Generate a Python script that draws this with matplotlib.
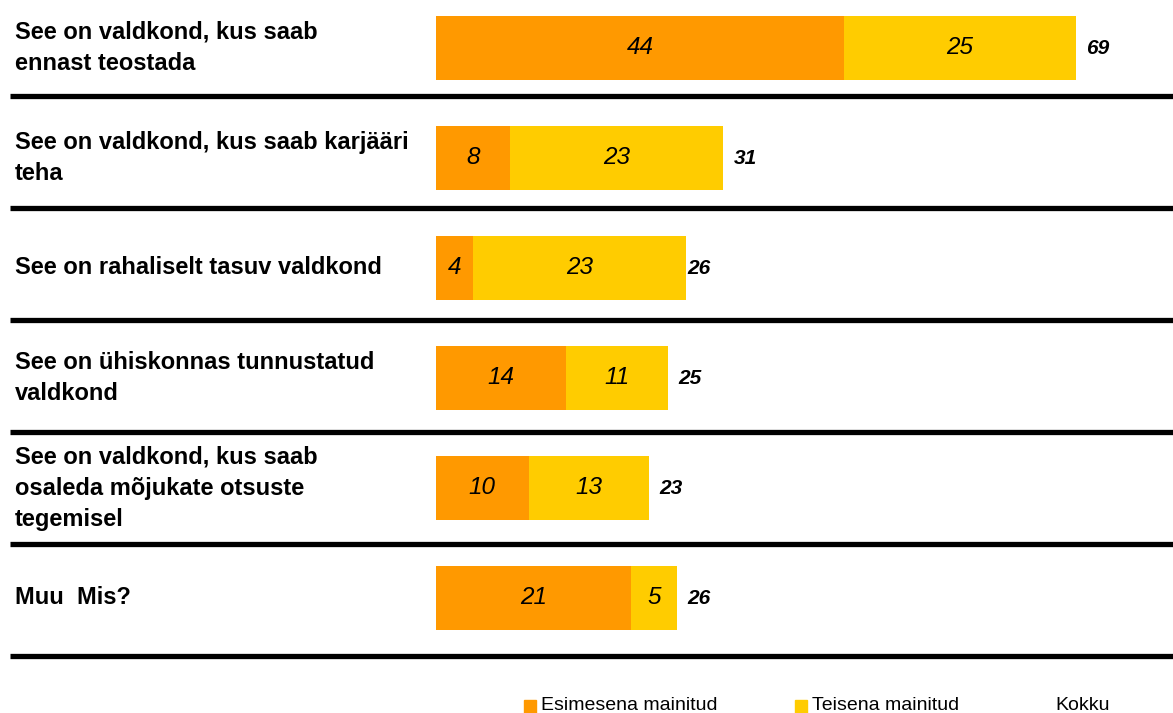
import matplotlib.pyplot as plt
from matplotlib.patches import Rectangle

plt.rcParams['font.family'] = ['Liberation Sans', 'DejaVu Sans']

kategooriad = [
    "See on valdkond, kus saab\nennast teostada",
    "See on valdkond, kus saab karjääri\nteha",
    "See on rahaliselt tasuv valdkond",
    "See on ühiskonnas tunnustatud\nvaldkond",
    "See on valdkond, kus saab\nosaleda mõjukate otsuste\ntegemisel",
    "Muu  Mis?",
]
esimesena = [44, 8, 4, 14, 10, 21]
teisena = [25, 23, 23, 11, 13, 5]
kokku = [69, 31, 26, 25, 23, 26]

oranz = "#FF9900"
kollane = "#FFCC00"

W, H = 1173, 713
fig = plt.figure(figsize=(W / 100, H / 100), dpi=100)
ax = fig.add_axes([0, 0, 1, 1])

# pikslid -> andmed: x=0 on 436 px juures, 1 ühik ~ 9.27 px
px = 9.27
ax.set_xlim(-436 / px, (W - 436) / px)
rida = 110
ax.set_ylim((H - 48) / rida, -48 / rida)
ax.axis("off")

y = list(range(len(kategooriad)))
ax.barh(y, esimesena, height=0.59, color=oranz)
ax.barh(y, teisena, left=esimesena, height=0.59, color=kollane)

tr = ax.get_yaxis_transform()
for i in y:
    ax.text(esimesena[i] / 2, i, str(esimesena[i]), ha="center", va="center",
            fontsize=17.5, style="italic")
    ax.text(esimesena[i] + teisena[i] / 2, i, str(teisena[i]), ha="center",
            va="center", fontsize=17.5, style="italic")
    ax.text(kokku[i] + 1.1, i, str(kokku[i]), ha="left", va="center",
            fontsize=15, style="italic", fontweight="bold")
    ax.text(15 / W, i, kategooriad[i], transform=tr, ha="left",
            va="center", fontsize=17, fontweight="bold", linespacing=1.45)
    # eraldusjoon
    yj = (96 + 112 * i - 48) / rida
    ax.plot([10 / W, 1], [yj, yj], transform=tr, color="black", lw=3.8,
            solid_capstyle="butt")

# legend
legend = [("Esimesena mainitud", oranz, 524), ("Teisena mainitud", kollane, 795),
          ("Kokku", None, 1055)]
for nimi, varv, x0 in legend:
    if varv:
        fig.patches.append(Rectangle((x0 / W, 1 - 713 / H), 12 / W, 13 / H,
                                     transform=fig.transFigure, color=varv))
        fig.text((x0 + 17) / W, 1 - 706 / H, nimi, va="center", fontsize=14)
    else:
        fig.text(x0 / W, 1 - 706 / H, nimi, va="center", fontsize=14)

fig.savefig("out.png", dpi=100)
